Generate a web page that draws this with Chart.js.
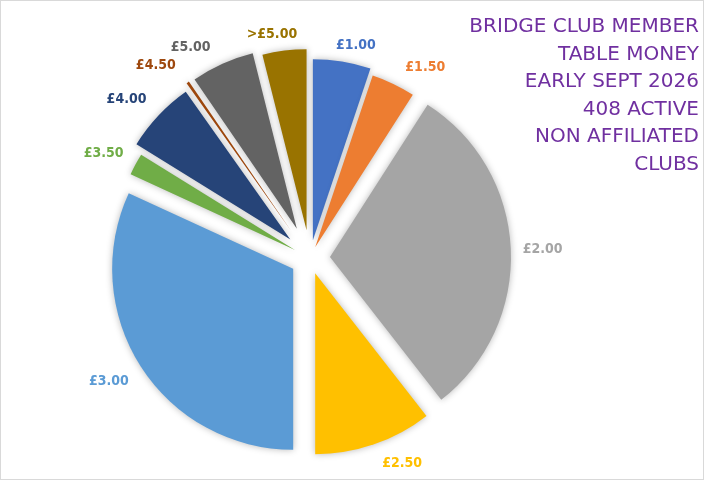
<!DOCTYPE html>
<html>
<head>
<meta charset="utf-8">
<script src="https://cdn.jsdelivr.net/npm/chart.js@4.4.1/dist/chart.umd.min.js"></script>
<style>
  html, body { margin: 0; padding: 0; background: #fff; }
  #grafico { display: block; }
</style>
</head>
<body>
<canvas id="grafico" width="704" height="480"></canvas>
<script>
// Datos (408 clubes)
const categorias = ['£1.00', '£1.50', '£2.00', '£2.50', '£3.00', '£3.50', '£4.00', '£4.50', '£5.00', '>£5.00'];
const clubes = [21, 16, 124, 43, 130, 8, 26, 1, 23, 16];
const titulo = ['BRIDGE CLUB MEMBER', 'TABLE MONEY', 'EARLY SEPT 2026', '408 ACTIVE', 'NON AFFILIATED', 'CLUBS'];

const colores = ['#4472C4', '#ED7D31', '#A5A5A5', '#FFC000', '#5B9BD5', '#70AD47', '#264478', '#9E480E', '#636363', '#997300'];
// separacion de cada porcion (px)
const separacion = [18, 12, 20, 16, 20, 17, 27, 33, 32, 28];

const pluginPorciones = {
    id: 'porciones',
    beforeDraw(chart) {
        const ctx = chart.ctx;
        ctx.save();
        ctx.strokeStyle = '#D9D9D9';
        ctx.lineWidth = 1;
        ctx.strokeRect(0.5, 0.5, chart.width - 1, chart.height - 1);
        ctx.restore();
    },
    afterDatasetUpdate(chart, args) {
        args.meta.data.forEach((arc, i) => {
            const medio = (arc.startAngle + arc.endAngle) / 2;
            arc.x += Math.cos(medio) * separacion[i];
            arc.y += Math.sin(medio) * separacion[i];
        });
    },
    beforeDatasetsDraw(chart) {
        const ctx = chart.ctx;
        ctx.save();
        ctx.shadowColor = 'rgba(0,0,0,0.28)';
        ctx.shadowBlur = 7;
    },
    afterDatasetsDraw(chart) {
        chart.ctx.restore();
    },
    afterDraw(chart) {
        const ctx = chart.ctx;
        const meta = chart.getDatasetMeta(0);
        ctx.save();
        // etiquetas fuera de cada porcion, estilo "extremo externo"
        ctx.font = 'bold 14px "DejaVu Sans Condensed", "DejaVu Sans"';
        ctx.textAlign = 'center';
        ctx.textBaseline = 'alphabetic';
        const alto = 10;
        meta.data.forEach((arc, i) => {
            const medio = (arc.startAngle + arc.endAngle) / 2;
            const dx = Math.cos(medio), dy = Math.sin(medio);
            const w = ctx.measureText(categorias[i]).width;
            const px = arc.x + dx * arc.outerRadius;
            const py = arc.y + dy * arc.outerRadius;
            const ox = Math.sign(dx) * (w / 2 + 12) * Math.min(1, Math.abs(dx) * 2.7);
            const oy = Math.sign(dy) * (alto / 2 + 13) * Math.min(1, Math.abs(dy) * 1.4);
            ctx.fillStyle = colores[i];
            ctx.fillText(categorias[i], px + ox, py + oy + alto / 2);
        });
        // titulo arriba a la derecha
        ctx.font = '20px "DejaVu Sans"';
        ctx.textAlign = 'right';
        ctx.fillStyle = '#7030A0';
        titulo.forEach((linea, i) => {
            ctx.fillText(linea, 699, 32 + i * 27.6);
        });
        ctx.restore();
    }
};

new Chart(document.getElementById('grafico'), {
    type: 'pie',
    data: {
        labels: categorias,
        datasets: [{
            data: clubes,
            backgroundColor: colores,
            borderWidth: 0
        }]
    },
    options: {
        responsive: false,
        animation: false,
        radius: 181,
        layout: { padding: { left: 0, right: 84, top: 36, bottom: 0 } },
        plugins: {
            legend: { display: false },
            tooltip: { enabled: false }
        }
    },
    plugins: [pluginPorciones]
});
</script>
</body>
</html>
